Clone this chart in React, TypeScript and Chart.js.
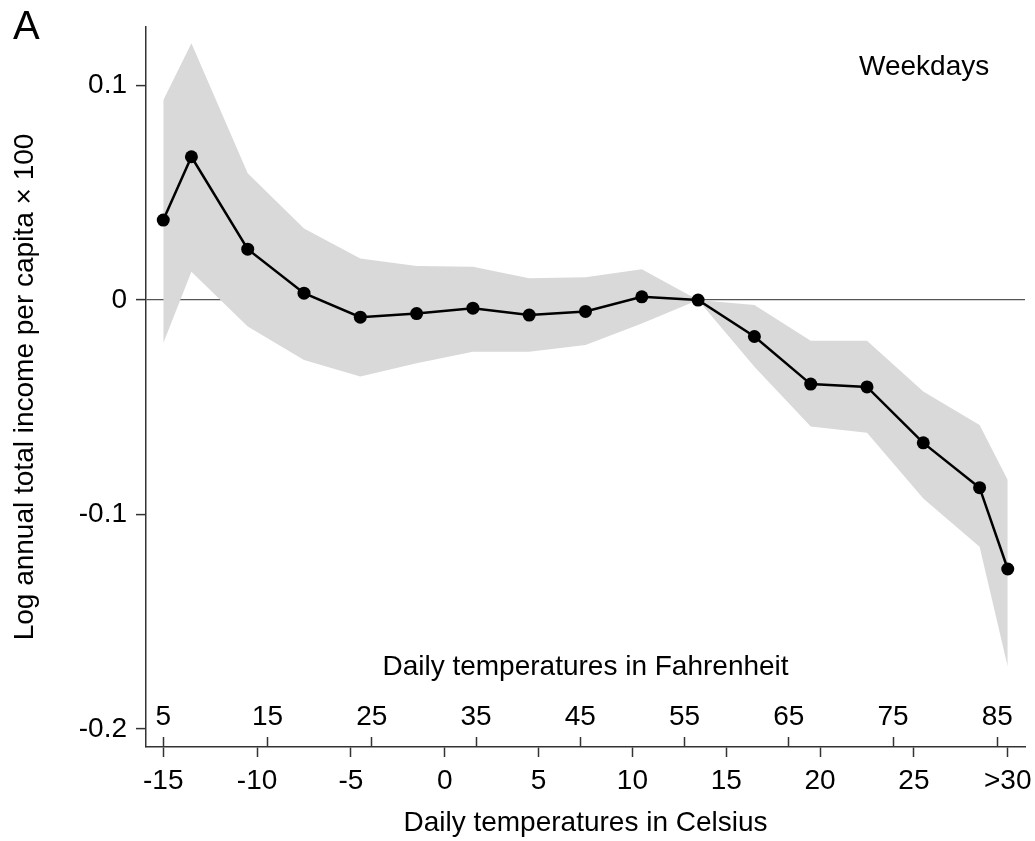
import React, { useEffect, useRef } from 'react';
import { Chart, registerables } from 'chart.js';

Chart.register(...registerables);

// Bin centres in degrees Celsius (first bin "<-15" drawn at -15, last bin ">30" drawn at 30)
const tempC = [-15, -13.5, -10.5, -7.5, -4.5, -1.5, 1.5, 4.5, 7.5, 10.5, 13.5, 16.5, 19.5, 22.5, 25.5, 28.5, 30];
// Point estimates
const estimate = [0.0373, 0.0668, 0.0237, 0.0032, -0.008, -0.0063, -0.0038, -0.007, -0.0053, 0.0015, 0, -0.017, -0.0392, -0.0405, -0.0666, -0.0875, -0.1254];
// 95% confidence band
const ciUpper = [0.0932, 0.1197, 0.0591, 0.0334, 0.0194, 0.0159, 0.0155, 0.0101, 0.0106, 0.0143, 0, -0.0023, -0.019, -0.019, -0.0427, -0.0583, -0.0839];
const ciLower = [-0.0202, 0.0132, -0.0124, -0.028, -0.0357, -0.0295, -0.0241, -0.0241, -0.021, -0.011, 0, -0.0311, -0.059, -0.0619, -0.0925, -0.115, -0.171];

const celsiusTicks = [-15, -10, -5, 0, 5, 10, 15, 20, 25, 30];
const celsiusTickLabels = ['-15', '-10', '-5', '0', '5', '10', '15', '20', '25', '>30'];
const fahrenheitTicks = [5, 15, 25, 35, 45, 55, 65, 75, 85];
const fahrenheitTickLabels = ['5', '15', '25', '35', '45', '55', '65', '75', '85'];
const yTicks = [-0.2, -0.1, 0, 0.1];
const yTickLabels = ['-0.2', '-0.1', '0', '0.1'];

const xMinC = -15.92;
const xMaxC = 30.92;
const yMin = -0.2084;
const yMax = 0.1273;

const panelLabel = 'A';
const panelNote = 'Weekdays';
const yTitle = 'Log annual total income per capita \u00d7 100';
const xTitleC = 'Daily temperatures in Celsius';
const xTitleF = 'Daily temperatures in Fahrenheit';

const FONT = '"Liberation Sans", Arial, Helvetica, sans-serif';
const AXIS = '#333333';

const textPlugin = {
  id: 'panelText',
  afterDraw(chart: any) {
    const ctx = chart.ctx;
    ctx.save();
    ctx.fillStyle = '#000';
    ctx.textBaseline = 'alphabetic';
    ctx.textAlign = 'left';
    ctx.font = `40px ${FONT}`;
    ctx.fillText(panelLabel, 13, 39);
    ctx.font = `28px ${FONT}`;
    ctx.fillText(panelNote, 859, 75);
    ctx.restore();
  },
};

export default function App() {
  const ref = useRef<HTMLCanvasElement | null>(null);

  useEffect(() => {
    if (!ref.current) return;
    Chart.defaults.font.family = FONT;
    Chart.defaults.color = '#000';
    const toF = (c: number) => c * 1.8 + 32;

    const chart = new Chart(ref.current, {
      type: 'line',
      data: {
        datasets: [
          {
            label: 'estimate',
            data: tempC.map((x, i) => ({ x, y: estimate[i] })),
            borderColor: '#000',
            borderWidth: 2.5,
            pointRadius: 6.5,
            pointBackgroundColor: '#000',
            pointBorderWidth: 0,
            tension: 0,
            fill: false,
          },
          {
            label: 'upper',
            data: tempC.map((x, i) => ({ x, y: ciUpper[i] })),
            borderWidth: 0,
            borderColor: 'rgba(0,0,0,0)',
            pointRadius: 0,
            backgroundColor: '#d9d9d9',
            fill: '+1',
            tension: 0,
          },
          {
            label: 'lower',
            data: tempC.map((x, i) => ({ x, y: ciLower[i] })),
            borderWidth: 0,
            borderColor: 'rgba(0,0,0,0)',
            pointRadius: 0,
            fill: false,
            tension: 0,
          },
        ],
      },
      options: {
        animation: false,
        responsive: false,
        devicePixelRatio: 1,
        layout: { padding: { left: 0, right: 10, top: 27, bottom: 0 } },
        plugins: {
          legend: { display: false },
          tooltip: { enabled: false },
          title: { display: false },
        },
        scales: {
          x: {
            type: 'linear',
            position: 'bottom',
            min: xMinC,
            max: xMaxC,
            afterBuildTicks: (s: any) => {
              s.ticks = celsiusTicks.map((v) => ({ value: v }));
            },
            afterFit: (s: any) => {
              s.height = 94;
              s.paddingLeft = 0;
              s.paddingRight = 0;
            },
            ticks: {
              autoSkip: false,
              maxRotation: 0,
              minRotation: 0,
              padding: 7.5,
              font: { size: 28 },
              color: '#000',
              callback: (_v: any, i: number) => celsiusTickLabels[i],
            },
            grid: {
              drawOnChartArea: false,
              drawTicks: true,
              tickLength: 10,
              tickColor: AXIS,
              tickWidth: 1.5,
            },
            border: { display: true, color: AXIS, width: 1.5 },
            title: {
              display: true,
              text: xTitleC,
              font: { size: 28 },
              color: '#000',
              padding: { top: 0, bottom: 1 },
            },
          },
          xF: {
            type: 'linear',
            axis: 'x',
            position: { y: yMin },
            min: toF(xMinC),
            max: toF(xMaxC),
            afterBuildTicks: (s: any) => {
              s.ticks = fahrenheitTicks.map((v) => ({ value: v }));
            },
            afterFit: (s: any) => {
              s.height = 0;
              s.paddingLeft = 0;
              s.paddingRight = 0;
            },
            ticks: {
              autoSkip: false,
              maxRotation: 0,
              minRotation: 0,
              padding: -36.5,
              font: { size: 28 },
              color: '#000',
              callback: (_v: any, i: number) => fahrenheitTickLabels[i],
            },
            grid: {
              drawOnChartArea: false,
              drawTicks: true,
              tickLength: -10,
              tickColor: AXIS,
              tickWidth: 1.5,
            },
            border: { display: false },
            title: {
              display: true,
              text: xTitleF,
              font: { size: 28 },
              color: '#000',
              padding: { top: 0, bottom: 63 },
            },
          },
          y: {
            type: 'linear',
            position: 'left',
            min: yMin,
            max: yMax,
            afterBuildTicks: (s: any) => {
              s.ticks = yTicks.map((v) => ({ value: v }));
            },
            afterFit: (s: any) => {
              s.width = 146;
              s.paddingTop = 0;
              s.paddingBottom = 0;
            },
            ticks: {
              padding: 9,
              font: { size: 28 },
              color: '#000',
              callback: (_v: any, i: number) => yTickLabels[i],
            },
            grid: {
              drawOnChartArea: true,
              drawTicks: true,
              tickLength: 10,
              color: (c: any) => (c.tick && c.tick.value === 0 ? '#555555' : 'rgba(0,0,0,0)'),
              lineWidth: 1.2,
              tickColor: AXIS,
              tickWidth: 1.5,
            },
            border: { display: true, color: AXIS, width: 1.5 },
            title: {
              display: true,
              text: yTitle,
              font: { size: 28 },
              color: '#000',
              padding: { top: 8, bottom: 0 },
            },
          },
        },
      } as any,
      plugins: [textPlugin],
    });

    return () => chart.destroy();
  }, []);

  return (
    <div style={{ position: 'absolute', left: 0, top: 0, width: 1035, height: 841 }}>
      <canvas ref={ref} width={1035} height={841} style={{ display: 'block', width: 1035, height: 841 }} />
    </div>
  );
}
